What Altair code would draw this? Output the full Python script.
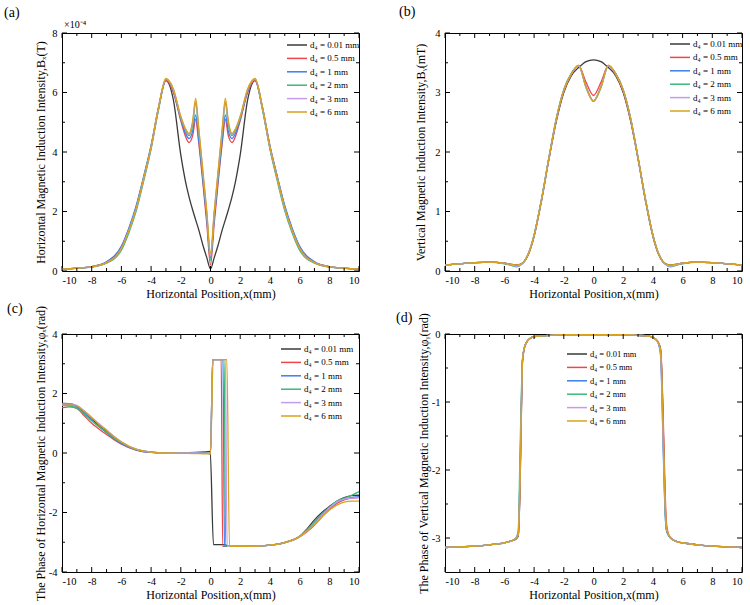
import altair as alt
import pandas as pd

# ---- series definitions -------------------------------------------------
LABELS = ["d₄ = 0.01 mm", "d₄ = 0.5 mm", "d₄ = 1 mm", "d₄ = 2 mm", "d₄ = 3 mm", "d₄ = 6 mm"]
COLORS = ["#3a3a3a", "#f0454a", "#3d7ef0", "#3cb878", "#c39cf0", "#d9a21b"]

X_MAJOR = [-10, -8, -6, -4, -2, 0, 2, 4, 6, 8, 10]
X_MINOR = [-9, -7, -5, -3, -1, 1, 3, 5, 7, 9]

# ---- (a) horizontal flux density Bx, in units of 1e-4 T ------------------
XA = [-10, -9, -8, -7, -6, -5.5, -5, -4.5, -4, -3.5, -3, -2.5, -2, -1.7, -1.45, -1.2, -1, -0.8, -0.5, -0.25,
      0, 0.25, 0.5, 0.8, 1, 1.2, 1.45, 1.7, 2, 2.5, 3, 3.5, 4, 4.5, 5, 5.5, 6, 7, 8, 9, 10]
A_001 = [0.07, 0.10, 0.14, 0.28, 0.75, 1.35, 2.10, 3.10, 4.15, 5.45, 6.40, 5.75, 3.90, 3.05, 2.50, 2.05, 1.72, 1.40, 0.85, 0.45,
         0.07, 0.45, 0.85, 1.40, 1.72, 2.05, 2.50, 3.05, 3.90, 5.75, 6.40, 5.45, 4.15, 3.10, 2.10, 1.35, 0.75, 0.28, 0.14, 0.10, 0.07]
A_05 = [0.07, 0.10, 0.15, 0.30, 0.80, 1.40, 2.15, 3.15, 4.20, 5.50, 6.42, 6.00, 5.05, 4.55, 4.32, 4.55, 5.10, 4.35, 2.90, 1.60,
        0.20, 1.60, 2.90, 4.35, 5.10, 4.55, 4.32, 4.55, 5.05, 6.00, 6.42, 5.50, 4.20, 3.15, 2.15, 1.40, 0.80, 0.30, 0.15, 0.10, 0.07]
A_1 = [0.07, 0.10, 0.15, 0.31, 0.84, 1.44, 2.20, 3.18, 4.22, 5.50, 6.45, 6.05, 5.10, 4.65, 4.45, 4.70, 5.25, 4.45, 3.00, 1.75,
       0.45, 1.75, 3.00, 4.45, 5.25, 4.70, 4.45, 4.65, 5.10, 6.05, 6.45, 5.50, 4.22, 3.18, 2.20, 1.44, 0.84, 0.31, 0.15, 0.10, 0.07]
A_2 = [0.07, 0.09, 0.13, 0.26, 0.70, 1.28, 2.02, 3.02, 4.10, 5.42, 6.45, 6.08, 5.15, 4.75, 4.55, 4.90, 5.65, 4.70, 3.15, 1.90,
       0.35, 1.90, 3.15, 4.70, 5.65, 4.90, 4.55, 4.75, 5.15, 6.08, 6.45, 5.42, 4.10, 3.02, 2.02, 1.28, 0.70, 0.26, 0.13, 0.09, 0.07]
A_3 = [0.07, 0.10, 0.14, 0.28, 0.76, 1.36, 2.10, 3.10, 4.15, 5.47, 6.45, 6.10, 5.18, 4.78, 4.60, 5.00, 5.72, 4.80, 3.25, 1.95,
       0.50, 1.95, 3.25, 4.80, 5.72, 5.00, 4.60, 4.78, 5.18, 6.10, 6.45, 5.47, 4.15, 3.10, 2.10, 1.36, 0.76, 0.28, 0.14, 0.10, 0.07]
A_6 = [0.07, 0.10, 0.14, 0.28, 0.76, 1.36, 2.12, 3.12, 4.18, 5.50, 6.47, 6.12, 5.20, 4.80, 4.62, 5.05, 5.80, 4.85, 3.30, 2.00,
       0.60, 2.00, 3.30, 4.85, 5.80, 5.05, 4.62, 4.80, 5.20, 6.12, 6.47, 5.50, 4.18, 3.12, 2.12, 1.36, 0.76, 0.28, 0.14, 0.10, 0.07]

# ---- (b) vertical flux density By, mT -----------------------------------
XB = [-10, -9, -8, -7, -6, -5.5, -5.2, -4.8, -4.4, -4, -3.5, -3, -2.5, -2, -1.5, -1, -0.5,
      0, 0.5, 1, 1.5, 2, 2.5, 3, 3.5, 4, 4.4, 4.8, 5.2, 5.5, 6, 7, 8, 9, 10]
B_001 = [0.10, 0.12, 0.14, 0.15, 0.13, 0.11, 0.10, 0.13, 0.27, 0.58, 1.18, 1.88, 2.52, 3.00, 3.28, 3.42, 3.52,
         3.55, 3.52, 3.42, 3.28, 3.00, 2.52, 1.88, 1.18, 0.58, 0.27, 0.13, 0.10, 0.11, 0.13, 0.15, 0.14, 0.12, 0.10]
B_05 = [0.10, 0.12, 0.14, 0.15, 0.13, 0.10, 0.09, 0.13, 0.28, 0.60, 1.20, 1.90, 2.55, 3.02, 3.30, 3.45, 3.17,
        2.95, 3.17, 3.45, 3.30, 3.02, 2.55, 1.90, 1.20, 0.60, 0.28, 0.13, 0.09, 0.10, 0.13, 0.15, 0.14, 0.12, 0.10]
B_1 = [0.10, 0.12, 0.14, 0.15, 0.13, 0.10, 0.08, 0.12, 0.28, 0.60, 1.20, 1.90, 2.56, 3.04, 3.31, 3.45, 3.10,
       2.86, 3.10, 3.45, 3.31, 3.04, 2.56, 1.90, 1.20, 0.60, 0.28, 0.12, 0.08, 0.10, 0.13, 0.15, 0.14, 0.12, 0.10]
B_2 = [0.10, 0.12, 0.14, 0.15, 0.12, 0.09, 0.07, 0.12, 0.28, 0.61, 1.21, 1.91, 2.57, 3.05, 3.32, 3.45, 3.08,
       2.85, 3.08, 3.45, 3.32, 3.05, 2.57, 1.91, 1.21, 0.61, 0.28, 0.12, 0.07, 0.09, 0.12, 0.15, 0.14, 0.12, 0.10]
B_3 = [0.10, 0.12, 0.14, 0.15, 0.13, 0.10, 0.08, 0.12, 0.28, 0.60, 1.20, 1.90, 2.56, 3.04, 3.31, 3.45, 3.09,
       2.86, 3.09, 3.45, 3.31, 3.04, 2.56, 1.90, 1.20, 0.60, 0.28, 0.12, 0.08, 0.10, 0.13, 0.15, 0.14, 0.12, 0.10]
B_6 = [0.10, 0.12, 0.14, 0.15, 0.13, 0.11, 0.10, 0.13, 0.28, 0.60, 1.20, 1.90, 2.56, 3.04, 3.31, 3.46, 3.09,
       2.86, 3.09, 3.46, 3.31, 3.04, 2.56, 1.90, 1.20, 0.60, 0.28, 0.13, 0.10, 0.11, 0.13, 0.15, 0.14, 0.12, 0.10]

# ---- (c) phase of Bx, rad (each series has its own sampling) -----------
C_X = {
    "d₄ = 0.01 mm": [-10, -9.5, -9, -8.5, -8, -7.5, -7, -6.5, -6, -5, -4, -3, -2, -1, -0.3, -0.02, 0.2, 1.0, 1.15,
                     2, 3, 4, 5, 6, 6.5, 7, 7.5, 8, 8.5, 9, 9.5, 10],
    "d₄ = 0.5 mm": [-10, -9.5, -9, -8.5, -8, -7.5, -7, -6.5, -6, -5, -4, -3, -2, -1, -0.3, 0.0, 0.15, 0.72, 0.82,
                    2, 3, 4, 5, 6, 6.5, 7, 7.5, 8, 8.5, 9, 9.5, 10],
    "d₄ = 1 mm": [-10, -9.5, -9, -8.5, -8, -7.5, -7, -6.5, -6, -5, -4, -3, -2, -1, -0.3, 0.0, 0.15, 0.84, 0.94,
                  2, 3, 4, 5, 6, 6.5, 7, 7.5, 8, 8.5, 9, 9.5, 10],
    "d₄ = 2 mm": [-10, -9.5, -9, -8.5, -8, -7.5, -7, -6.5, -6, -5, -4, -3, -2, -1, -0.3, 0.0, 0.15, 0.92, 1.02,
                  2, 3, 4, 5, 6, 6.5, 7, 7.5, 8, 8.5, 9, 9.5, 10],
    "d₄ = 3 mm": [-10, -9.5, -9, -8.5, -8, -7.5, -7, -6.5, -6, -5, -4, -3, -2, -1, -0.3, 0.0, 0.15, 1.0, 1.12,
                  2, 3, 4, 5, 6, 6.5, 7, 7.5, 8, 8.5, 9, 9.5, 10],
    "d₄ = 6 mm": [-10, -9.5, -9, -8.5, -8, -7.5, -7, -6.5, -6, -5, -4, -3, -2, -1, -0.3, 0.0, 0.18, 1.1, 1.28,
                  2, 3, 4, 5, 6, 6.5, 7, 7.5, 8, 8.5, 9, 9.5, 10],
}
C_Y = {
    "d₄ = 0.01 mm": [1.67, 1.66, 1.58, 1.38, 1.14, 0.92, 0.72, 0.52, 0.35, 0.12, 0.03, 0.01, 0.01, 0.02, 0.04, 0.05, -3.08, -3.08, -3.14,
                     -3.14, -3.13, -3.10, -3.00, -2.80, -2.55, -2.25, -2.00, -1.80, -1.62, -1.50, -1.43, -1.42],
    "d₄ = 0.5 mm": [1.52, 1.55, 1.50, 1.25, 1.00, 0.80, 0.62, 0.45, 0.30, 0.10, 0.02, 0.00, 0.00, 0.00, -0.01, -0.02, 3.14, 3.14, -3.14,
                    -3.14, -3.13, -3.10, -3.02, -2.82, -2.65, -2.42, -2.15, -1.90, -1.70, -1.58, -1.52, -1.50],
    "d₄ = 1 mm": [1.62, 1.62, 1.55, 1.35, 1.10, 0.88, 0.68, 0.48, 0.32, 0.10, 0.02, 0.00, 0.00, 0.00, -0.01, -0.02, 3.14, 3.14, -3.14,
                  -3.14, -3.13, -3.10, -3.01, -2.81, -2.60, -2.35, -2.10, -1.85, -1.65, -1.55, -1.50, -1.47],
    "d₄ = 2 mm": [1.60, 1.58, 1.50, 1.30, 1.08, 0.88, 0.70, 0.50, 0.35, 0.12, 0.03, 0.00, 0.00, 0.00, -0.01, -0.02, 3.14, 3.14, -3.14,
                  -3.14, -3.13, -3.10, -3.01, -2.80, -2.58, -2.32, -2.05, -1.82, -1.62, -1.52, -1.42, -1.30],
    "d₄ = 3 mm": [1.65, 1.65, 1.60, 1.42, 1.20, 0.98, 0.78, 0.56, 0.38, 0.13, 0.03, 0.00, 0.00, 0.00, -0.01, -0.02, 3.14, 3.14, -3.14,
                  -3.14, -3.13, -3.10, -3.01, -2.81, -2.62, -2.38, -2.10, -1.85, -1.65, -1.55, -1.52, -1.50],
    "d₄ = 6 mm": [1.60, 1.62, 1.58, 1.40, 1.18, 0.96, 0.76, 0.55, 0.37, 0.12, 0.03, 0.00, -0.01, -0.02, -0.03, -0.03, 3.14, 3.14, -3.14,
                  -3.14, -3.13, -3.10, -3.01, -2.81, -2.62, -2.40, -2.15, -1.92, -1.75, -1.65, -1.62, -1.62],
}

# ---- (d) phase of By, rad ----------------------------------------------
XD = [-10, -9, -8, -7, -6, -5.5, -5.2, -5.07, -4.95, -4.85, -4.78, -4.65, -4.5, -4.3, -4, -3, -2, -1, 0, 1,
      2, 3, 3.7, 4.0, 4.3, 4.5, 4.57, 4.68, 4.8, 4.9, 5.05, 5.3, 5.7, 6, 7, 8, 9, 10]
D_001 = [-3.14, -3.13, -3.12, -3.10, -3.07, -3.04, -3.01, -2.97, -2.30, -1.10, -0.40, -0.20, -0.12, -0.07, -0.04, -0.02, -0.01, -0.01, -0.01, -0.01,
         -0.01, -0.02, -0.03, -0.05, -0.10, -0.20, -0.40, -1.20, -2.30, -2.85, -2.96, -3.02, -3.06, -3.07, -3.10, -3.12, -3.13, -3.14]
D_05 = [-3.14, -3.13, -3.12, -3.10, -3.07, -3.04, -3.01, -2.96, -2.25, -1.05, -0.40, -0.20, -0.12, -0.07, -0.04, -0.02, -0.01, -0.01, -0.01, -0.01,
        -0.01, -0.02, -0.03, -0.05, -0.10, -0.20, -0.38, -1.10, -2.10, -2.75, -2.94, -3.02, -3.06, -3.07, -3.10, -3.12, -3.13, -3.14]
D_1 = [-3.14, -3.13, -3.12, -3.10, -3.07, -3.04, -3.00, -2.95, -2.05, -0.95, -0.38, -0.20, -0.12, -0.07, -0.04, -0.02, -0.01, -0.01, -0.01, -0.01,
       -0.01, -0.02, -0.03, -0.05, -0.11, -0.28, -0.60, -1.60, -2.50, -2.88, -2.96, -3.02, -3.06, -3.07, -3.10, -3.12, -3.13, -3.14]
D_2 = [-3.14, -3.13, -3.12, -3.10, -3.07, -3.04, -2.99, -2.90, -1.75, -0.80, -0.36, -0.19, -0.12, -0.07, -0.04, -0.02, -0.01, -0.01, -0.01, -0.01,
       -0.01, -0.02, -0.03, -0.05, -0.10, -0.24, -0.50, -1.40, -2.50, -2.86, -2.96, -3.02, -3.06, -3.07, -3.10, -3.12, -3.13, -3.14]
D_3 = [-3.14, -3.13, -3.12, -3.10, -3.07, -3.04, -3.00, -2.95, -2.10, -0.98, -0.38, -0.20, -0.12, -0.07, -0.04, -0.02, -0.01, -0.01, -0.01, -0.01,
       -0.01, -0.02, -0.03, -0.05, -0.10, -0.24, -0.55, -1.50, -2.40, -2.84, -2.95, -3.02, -3.06, -3.07, -3.10, -3.12, -3.13, -3.14]
D_6 = [-3.14, -3.13, -3.12, -3.10, -3.07, -3.04, -3.00, -2.95, -2.20, -1.00, -0.38, -0.20, -0.12, -0.07, -0.04, -0.02, -0.01, -0.01, -0.01, -0.01,
       -0.01, -0.02, -0.03, -0.05, -0.10, -0.22, -0.45, -1.30, -2.30, -2.82, -2.95, -3.02, -3.06, -3.07, -3.10, -3.12, -3.13, -3.14]

FONT = "Liberation Serif"
W, H = 297, 238


def shared_grid(xs, ys_list):
    rows = []
    for lab, ys in zip(LABELS, ys_list):
        rows += [{"x": x, "y": y, "series": lab} for x, y in zip(xs, ys)]
    return pd.DataFrame(rows)


def per_series(xd, yd):
    rows = []
    for lab in LABELS:
        rows += [{"x": x, "y": y, "series": lab} for x, y in zip(xd[lab], yd[lab])]
    return pd.DataFrame(rows)


def panel(df, ydom, y_major, y_minor, ytitle, ytitle_pad, legend_xy, legend_font, tag, tag_xy, extra=None):
    xs = alt.Scale(domain=[-10, 10], nice=False, zero=False)
    ys = alt.Scale(domain=ydom, nice=False, zero=False)
    x_axis = alt.Axis(values=X_MAJOR, title="Horizontal Position,x(mm)",
                      labelExpr="datum.value + ''", titlePadding=3, labelPadding=4,
                      labelFont=FONT, labelFontSize=10.5, titleFont=FONT)
    y_axis = alt.Axis(values=y_major, title=ytitle, labelExpr="datum.value + ''",
                      titlePadding=ytitle_pad, labelPadding=5,
                      labelFont=FONT, labelFontSize=10.5, titleFont=FONT)
    lines = alt.Chart(df).mark_line(strokeWidth=1.3, interpolate="monotone", clip=True).encode(
        x=alt.X("x:Q", scale=xs, axis=x_axis),
        y=alt.Y("y:Q", scale=ys, axis=y_axis),
        color=alt.Color("series:N", sort=LABELS, scale=alt.Scale(domain=LABELS, range=COLORS),
                        legend=alt.Legend(orient="none", legendX=legend_xy[0], legendY=legend_xy[1], title=None,
                                          symbolType="M-1,0H3", symbolSize=100, symbolStrokeWidth=1.5,
                                          labelFont=FONT, labelFontSize=legend_font, labelColor="#000",
                                          labelOffset=12, rowPadding=2.4, padding=0)),
    )
    layers = [lines]
    # inward ticks on all four sides of the frame
    for vals, ln in ((X_MAJOR, 5), (X_MINOR, 3)):
        tdf = pd.DataFrame({"x": vals})
        layers.append(alt.Chart(tdf).mark_rule(color="#000", strokeWidth=1).encode(
            x=alt.X("x:Q", scale=xs, axis=x_axis), y=alt.value(H), y2=alt.value(H - ln)))
        layers.append(alt.Chart(tdf).mark_rule(color="#000", strokeWidth=1).encode(
            x=alt.X("x:Q", scale=xs, axis=x_axis), y=alt.value(0), y2=alt.value(ln)))
    for vals, ln in ((y_major, 5), (y_minor, 3)):
        tdf = pd.DataFrame({"y": vals})
        layers.append(alt.Chart(tdf).mark_rule(color="#000", strokeWidth=1).encode(
            y=alt.Y("y:Q", scale=ys, axis=y_axis), x=alt.value(0), x2=alt.value(ln)))
        layers.append(alt.Chart(tdf).mark_rule(color="#000", strokeWidth=1).encode(
            y=alt.Y("y:Q", scale=ys, axis=y_axis), x=alt.value(W), x2=alt.value(W - ln)))
    layers.append(alt.Chart(pd.DataFrame({"t": [tag]})).mark_text(
        align="left", baseline="alphabetic", font=FONT, fontSize=14, color="#000").encode(
        x=alt.value(tag_xy[0]), y=alt.value(tag_xy[1]), text="t:N"))
    if extra is not None:
        layers.append(alt.Chart(pd.DataFrame({"t": [extra]})).mark_text(
            align="left", baseline="alphabetic", font=FONT, fontSize=10, color="#000").encode(
            x=alt.value(2), y=alt.value(-5), text="t:N"))
    return alt.layer(*layers).properties(width=W, height=H)


pa = panel(shared_grid(XA, [A_001, A_05, A_1, A_2, A_3, A_6]), [0, 8], [0, 2, 4, 6, 8], [1, 3, 5, 7],
           "Horizontal Magnetic Induction Intensity,Bₓ(T)", 4, (224, 6), 9, "(a)", (-58, -16), extra="×10⁻⁴")
pb = panel(shared_grid(XB, [B_001, B_05, B_1, B_2, B_3, B_6]), [0, 4], [0, 1, 2, 3, 4], [0.5, 1.5, 2.5, 3.5],
           "Vertical Magnetic Induction Intensity,Bᵧ(mT)", 7, (224, 5), 9, "(b)", (-46, -17))
pc = panel(per_series(C_X, C_Y), [-4, 4], [-4, -2, 0, 2, 4], [-3, -1, 1, 3],
           "The Phase of Horizontal Magnetic Induction Intensity,φₓ(rad)", 1, (218, 9), 9, "(c)", (-55, -21))
pd_ = panel(shared_grid(XD, [D_001, D_05, D_1, D_2, D_3, D_6]), [-3.5, 0], [-3, -2, -1, 0], [-2.5, -1.5, -0.5],
            "The Phase of Vertical Magnetic Induction Intensity,φᵧ(rad)", 1, (121, 14), 8.5, "(d)", (-49, -12))

chart = alt.concat(
    pa, pb, pc, pd_, columns=2, spacing={"row": 63, "column": 86}, bounds="flush"
).resolve_scale(
    x="independent", y="independent", color="independent"
).properties(
    padding={"left": 3, "top": 4, "right": 0, "bottom": 0}
).configure(
    background="white"
).configure_view(
    stroke="#000", strokeWidth=1
).configure_axis(
    labelFont=FONT, labelFontSize=10.5, labelColor="#000",
    titleFont=FONT, titleFontSize=12, titleFontWeight="normal", titleColor="#000",
    ticks=False, domain=False, grid=False
).configure_text(
    font=FONT
)

chart.save("out.html", embed_options={"renderer": "svg", "actions": False})
